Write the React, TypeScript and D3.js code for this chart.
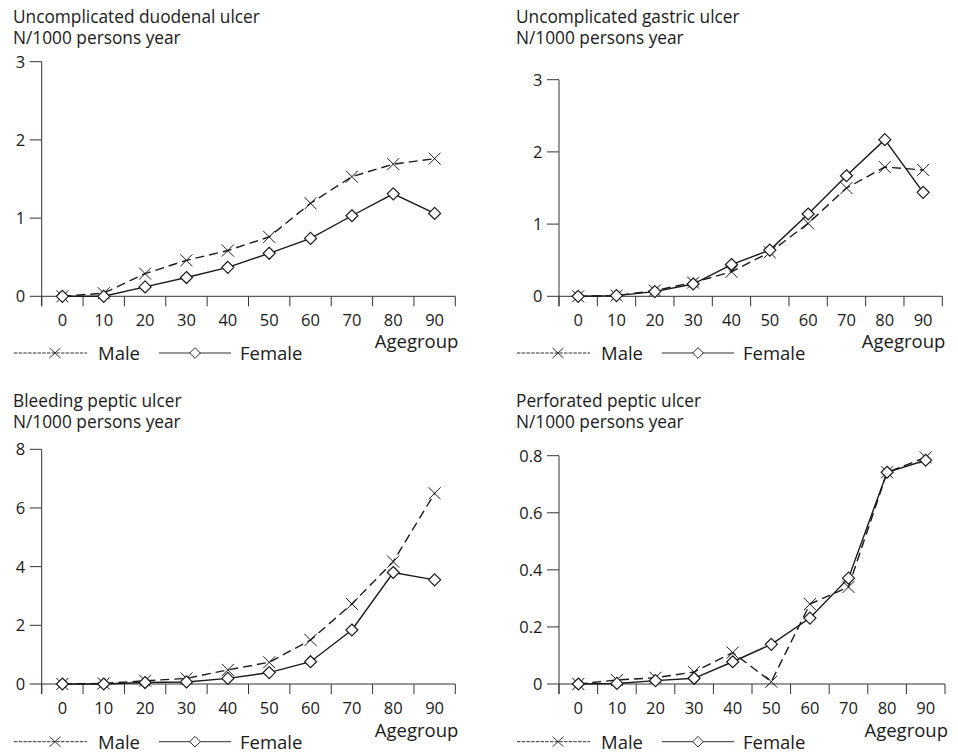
import React from "react";
import * as d3 from "d3";

const ageGroups = ["0", "10", "20", "30", "40", "50", "60", "70", "80", "90"];

const duodenalMale = [0, 0.04, 0.29, 0.46, 0.585, 0.76, 1.19, 1.53, 1.69, 1.76];
const duodenalFemale = [0, 0, 0.12, 0.24, 0.37, 0.55, 0.74, 1.03, 1.31, 1.06];

const gastricMale = [0, 0.01, 0.08, 0.19, 0.34, 0.61, 1.01, 1.5, 1.79, 1.75];
const gastricFemale = [0, 0.01, 0.065, 0.17, 0.44, 0.64, 1.14, 1.67, 2.17, 1.44];

const bleedingMale = [0, 0.02, 0.11, 0.19, 0.48, 0.74, 1.5, 2.73, 4.17, 6.5];
const bleedingFemale = [0, 0, 0.05, 0.07, 0.19, 0.39, 0.76, 1.84, 3.8, 3.55];

const perforatedMale = [0, 0.014, 0.022, 0.042, 0.11, 0.008, 0.28, 0.34, 0.742, 0.794];
const perforatedFemale = [0, 0.002, 0.012, 0.02, 0.078, 0.139, 0.231, 0.371, 0.742, 0.784];

const duodenalTicks = [0, 1, 2, 3];
const gastricTicks = [0, 1, 2, 3];
const bleedingTicks = [0, 2, 4, 6, 8];
const perforatedTicks = [0, 0.2, 0.4, 0.6, 0.8];

const titles = [
  "Uncomplicated duodenal ulcer",
  "Uncomplicated gastric ulcer",
  "Bleeding peptic ulcer",
  "Perforated peptic ulcer",
];
const unitLabel = "N/1000 persons year";
const xAxisLabel = "Agegroup";
const legendLabels = ["Male", "Female"];

const FONT = "'Open Sans', 'Noto Sans', sans-serif";
const INK = "#1a1a1a";
const AXIS = "#333";

type PanelProps = {
  title: string;
  male: number[];
  female: number[];
  ticks: number[];
  x0: number;
  x1: number;
  yTop: number;
  yZero: number;
  titleX: number;
  titleY: number;
  xLabelY: number;
  ageY: number;
  legendY: number;
  tickFmt: (v: number) => string;
};

function Cross({ x, y }: { x: number; y: number }) {
  const s = 6;
  return (
    <g stroke={INK} strokeWidth={1} fill="none">
      <line x1={x - s} y1={y - s} x2={x + s} y2={y + s} />
      <line x1={x - s} y1={y + s} x2={x + s} y2={y - s} />
    </g>
  );
}

function Diamond({ x, y }: { x: number; y: number }) {
  const s = 6;
  return (
    <path
      d={`M${x},${y - s}L${x + s},${y}L${x},${y + s}L${x - s},${y}Z`}
      fill="#fff"
      stroke={INK}
      strokeWidth={1.2}
    />
  );
}

function Panel(p: PanelProps) {
  const xBand = d3.scaleBand<string>().domain(ageGroups).range([p.x0, p.x1]).padding(0);
  const yMax = p.ticks[p.ticks.length - 1];
  const y = d3.scaleLinear().domain([0, yMax]).range([p.yZero, p.yTop]);
  const cx = (a: string) => (xBand(a) as number) + xBand.bandwidth() / 2;
  const line = d3
    .line<number>()
    .x((_, i) => cx(ageGroups[i]))
    .y((v) => y(v));
  const bounds = ageGroups.map((a) => xBand(a) as number).concat([p.x1]);
  const legendTextStyle = { fontFamily: FONT, fontSize: 18.5, fill: INK };
  const tickStyle = { fontFamily: FONT, fontSize: 16.5, fill: INK };
  const titleStyle = { fontFamily: FONT, fontSize: 17.3, fill: INK };
  return (
    <g>
      <text x={p.titleX} y={p.titleY} style={titleStyle}>
        {p.title}
      </text>
      <text x={p.titleX} y={p.titleY + 21} style={titleStyle}>
        {unitLabel}
      </text>
      {/* y axis */}
      <line x1={p.x0} x2={p.x0} y1={p.yTop} y2={p.yZero + 10} stroke={AXIS} strokeWidth={1} />
      {p.ticks.map((t) => (
        <g key={t}>
          <line x1={p.x0 - 12} x2={p.x0} y1={y(t)} y2={y(t)} stroke={AXIS} strokeWidth={1} />
          <text x={p.x0 - 16.5} y={y(t)} dy="0.36em" textAnchor="end" style={tickStyle}>
            {p.tickFmt(t)}
          </text>
        </g>
      ))}
      {/* x axis */}
      <line x1={p.x0} x2={p.x1} y1={p.yZero} y2={p.yZero} stroke={AXIS} strokeWidth={1} />
      {bounds.map((b, i) => (
        <line key={i} x1={b} x2={b} y1={p.yZero} y2={p.yZero + 10} stroke={AXIS} strokeWidth={1} />
      ))}
      {ageGroups.map((a) => (
        <text key={a} x={cx(a)} y={p.xLabelY} textAnchor="middle" style={tickStyle}>
          {a}
        </text>
      ))}
      <text x={p.x1 + 3} y={p.ageY} textAnchor="end" style={legendTextStyle}>
        {xAxisLabel}
      </text>
      {/* series */}
      <path d={line(p.male) || ""} fill="none" stroke={INK} strokeWidth={1.4} strokeDasharray="9,5" />
      <path d={line(p.female) || ""} fill="none" stroke={INK} strokeWidth={1.4} />
      {p.male.map((v, i) => (
        <Cross key={"m" + i} x={cx(ageGroups[i])} y={y(v)} />
      ))}
      {p.female.map((v, i) => (
        <Diamond key={"f" + i} x={cx(ageGroups[i])} y={y(v)} />
      ))}
      {/* legend */}
      <g>
        <line
          x1={p.titleX + 1}
          x2={p.titleX + 74}
          y1={p.legendY}
          y2={p.legendY}
          stroke={INK}
          strokeWidth={0.9}
          strokeDasharray="3.5,1.2"
        />
        <g transform={`translate(${p.titleX + 42},${p.legendY})`}>
          <line x1={-5.5} y1={-5} x2={5.5} y2={5} stroke={INK} strokeWidth={0.9} />
          <line x1={-5.5} y1={5} x2={5.5} y2={-5} stroke={INK} strokeWidth={0.9} />
        </g>
        <text x={p.titleX + 85} y={p.legendY + 7} style={legendTextStyle}>
          {legendLabels[0]}
        </text>
        <line
          x1={p.titleX + 146}
          x2={p.titleX + 218}
          y1={p.legendY}
          y2={p.legendY}
          stroke={INK}
          strokeWidth={0.9}
        />
        <path
          d={`M${p.titleX + 182},${p.legendY - 5.3}l5.3,5.3l-5.3,5.3l-5.3,-5.3z`}
          fill="#fff"
          stroke={INK}
          strokeWidth={0.9}
        />
        <text x={p.titleX + 227} y={p.legendY + 7} style={legendTextStyle}>
          {legendLabels[1]}
        </text>
      </g>
    </g>
  );
}

export default function App() {
  const intFmt = (v: number) => String(v);
  const decFmt = (v: number) => (v === 0 ? "0" : d3.format(".1f")(v));
  return (
    <svg
      width={958}
      height={753}
      style={{ display: "block", position: "absolute", left: 0, top: 0, background: "#fff" }}
    >
      <rect width={958} height={753} fill="#fff" />
      <Panel
        title={titles[0]}
        male={duodenalMale}
        female={duodenalFemale}
        ticks={duodenalTicks}
        x0={41.7}
        x1={455.3}
        yTop={61.7}
        yZero={296.3}
        titleX={13}
        titleY={22.7}
        xLabelY={326}
        ageY={347.7}
        legendY={353}
        tickFmt={intFmt}
      />
      <Panel
        title={titles[1]}
        male={gastricMale}
        female={gastricFemale}
        ticks={gastricTicks}
        x0={559}
        x1={942.3}
        yTop={79.7}
        yZero={296.3}
        titleX={516}
        titleY={22.7}
        xLabelY={326}
        ageY={347.7}
        legendY={353}
        tickFmt={intFmt}
      />
      <Panel
        title={titles[2]}
        male={bleedingMale}
        female={bleedingFemale}
        ticks={bleedingTicks}
        x0={41.7}
        x1={455.3}
        yTop={449.3}
        yZero={684}
        titleX={13}
        titleY={406.7}
        xLabelY={714}
        ageY={737.3}
        legendY={741.7}
        tickFmt={intFmt}
      />
      <Panel
        title={titles[3]}
        male={perforatedMale}
        female={perforatedFemale}
        ticks={perforatedTicks}
        x0={559}
        x1={945}
        yTop={455.7}
        yZero={684}
        titleX={516}
        titleY={406.7}
        xLabelY={714}
        ageY={737.3}
        legendY={741.7}
        tickFmt={decFmt}
      />
    </svg>
  );
}
